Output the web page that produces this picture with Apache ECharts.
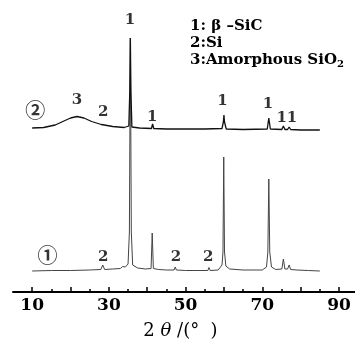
<!DOCTYPE html>
<html>
<head>
<meta charset="utf-8">
<script src="https://cdn.jsdelivr.net/npm/echarts@6/dist/echarts.min.js"></script>
<style>
  html, body { margin: 0; padding: 0; background: #fff; overflow: hidden; }
  #chart { width: 355px; height: 351px; }
</style>
</head>
<body>
<div id="chart"></div>
<script>
// 2theta (deg) / relative intensity pairs
const sample1 = [
  [10, 21], [15, 21.5], [20, 21.5], [25, 22], [27.9, 22.5], [28.4, 27], [28.9, 22.5],
  [31, 23], [33, 23.5], [33.6, 25.5], [34.3, 25], [35.0, 28], [35.35, 60], [35.6, 254],
  [35.85, 60], [36.2, 27], [37.5, 24], [39.5, 23], [41.0, 23.5], [41.3, 59], [41.6, 23.5],
  [43, 22.5], [45, 22], [47.0, 22], [47.3, 25], [47.6, 22], [50, 21.5], [53, 21.5],
  [55.8, 21.5], [56.1, 24.5], [56.4, 21.5], [58.5, 22], [59.5, 27], [59.75, 40],
  [59.95, 135], [60.15, 40], [60.5, 26], [61.5, 23], [65, 22], [70, 22], [71.1, 25],
  [71.45, 40], [71.7, 113], [71.95, 40], [72.4, 25], [73.5, 22.5], [75.1, 23], [75.5, 33],
  [75.9, 23], [76.6, 23], [77.0, 27], [77.4, 22.5], [79, 22], [82, 21.5], [85, 21]
]
const sample2 = [
  [10, 164], [13, 164.5], [16, 167], [18, 170.5], [20, 174], [21.7, 175.5], [23.5, 174],
  [25.5, 170.5], [28.0, 167.5], [28.4, 169], [28.8, 167], [31, 165.5], [34, 164.5],
  [35.2, 166], [35.45, 200], [35.6, 254], [35.75, 200], [36.0, 165], [38, 164],
  [41.1, 163.5], [41.4, 168], [41.7, 163.5], [45, 163], [50, 163], [55, 163],
  [59.5, 163.5], [59.85, 170], [60.0, 177], [60.15, 170], [60.6, 163], [65, 162.5],
  [71.3, 163], [71.7, 174], [72.1, 163], [75.1, 162.5], [75.5, 166], [75.9, 162.5],
  [76.6, 162.5], [77.0, 165], [77.4, 162.5], [80, 162], [85, 162]
]
// peak annotations: [2theta, intensity, text]
const peakLabels = [
  [10.8, 182, '②'], [21.7, 192, '3'], [28.5, 180, '2'], [35.5, 272, '1'],
  [41.3, 175, '1'], [59.6, 191, '1'], [71.5, 188, '1'], [76.4, 174, '11'],
  [14.0, 37, '①'], [28.5, 35, '2'], [47.5, 35, '2'], [55.9, 35, '2']
]
const legendLines = ['1: β –SiC', '2:Si', '3:Amorphous SiO{sub|2}']
const majorTicks = [10, 20, 30, 40, 50, 60, 70, 80, 90]
const minorTicks = [15, 25, 35, 45, 55, 65, 75, 85]
const tickLabels = [10, 30, 50, 70, 90]

const serif = 'DejaVu Serif'
const chart = echarts.init(document.getElementById('chart'))

const labelData = peakLabels.map(function(p) {
  const circled = p[2] === '①' || p[2] === '②'
  return {
    value: [p[0], p[1]],
    label: {
      formatter: p[2],
      fontFamily: circled ? 'Noto Sans CJK SC' : serif,
      fontWeight: 'bold',
      fontSize: circled ? 20 : 15
    }
  }
})

chart.setOption({
  animation: false,
  backgroundColor: '#fff',
  grid: {
    left: 13,
    right: -7,
    top: 12,
    bottom: 59,
    outerBoundsMode: 'none'
  },
  xAxis: [{
    type: 'value',
    min: 5,
    max: 96,
    position: 'bottom',
    splitLine: { show: false },
    axisLine: { lineStyle: { color: '#000', width: 2 } },
    axisTick: {
      inside: true,
      length: 5,
      customValues: majorTicks,
      lineStyle: { color: '#000', width: 1.5 }
    },
    axisLabel: {
      customValues: tickLabels,
      margin: 5,
      color: '#000',
      fontFamily: serif,
      fontWeight: 'bold',
      fontSize: 17
    },
    name: '2 {i|θ} /(°  )',
    nameLocation: 'middle',
    nameGap: 30,
    nameTextStyle: {
      color: '#000',
      fontFamily: serif,
      fontSize: 18,
      padding: [0, 14, 0, 0],
      rich: {
        i: { fontFamily: serif, fontStyle: 'italic', fontSize: 18, color: '#000' }
      }
    }
  }, {
    type: 'value',
    min: 5,
    max: 96,
    position: 'bottom',
    offset: 0,
    splitLine: { show: false },
    axisLine: { show: false },
    axisTick: {
      inside: true,
      length: 3,
      customValues: minorTicks,
      lineStyle: { color: '#000', width: 1.5 }
    },
    axisLabel: { show: false }
  }],
  yAxis: {
    type: 'value',
    min: 0,
    max: 280,
    show: false
  },
  graphic: legendLines.map(function(t, i) {
    return {
      type: 'text',
      left: 190,
      top: 19 + i * 17,
      style: {
        text: t,
        fill: '#000',
        font: 'bold 15px "' + serif + '"',
        rich: { sub: { fontSize: 10, fontWeight: 'bold', verticalAlign: 'bottom', padding: [7, 0, 0, 0], fontFamily: serif } }
      }
    }
  }),
  series: [{
    type: 'line',
    data: sample1,
    showSymbol: false,
    silent: true,
    lineStyle: { color: '#444', width: 1 }
  }, {
    type: 'line',
    data: sample2,
    showSymbol: false,
    silent: true,
    lineStyle: { color: '#111', width: 1.3 }
  }, {
    type: 'scatter',
    data: labelData,
    symbolSize: 0,
    silent: true,
    label: {
      show: true,
      position: 'inside',
      color: '#000'
    }
  }]
})
</script>
</body>
</html>
